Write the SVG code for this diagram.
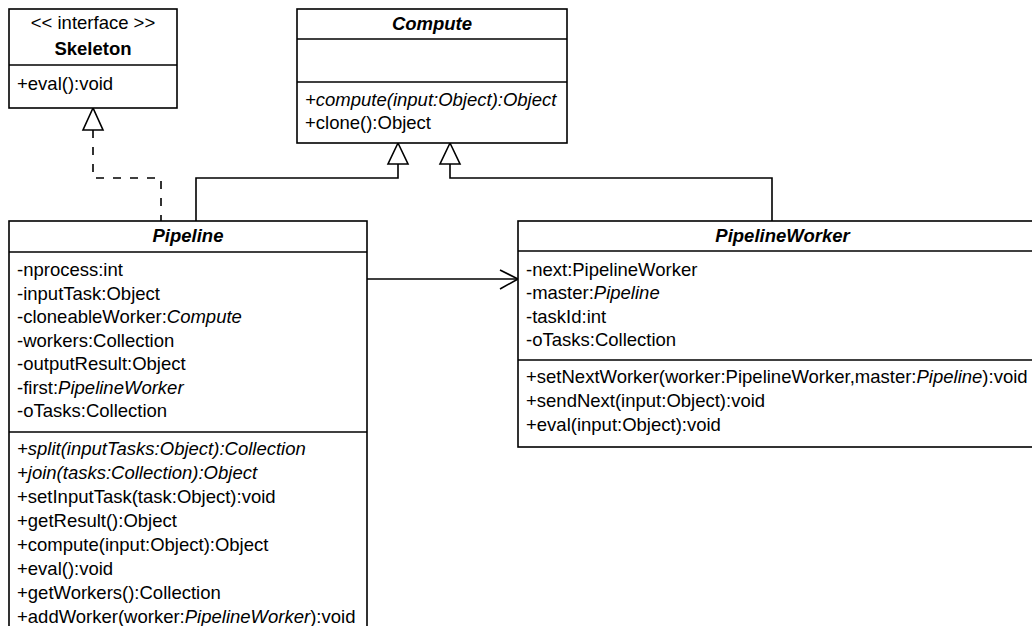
<svg xmlns="http://www.w3.org/2000/svg" width="1032" height="626" viewBox="0 0 1032 626">
  <style>
    .box { fill: #ffffff; stroke: #000000; stroke-width: 1.6; }
    .sep { stroke: #000000; stroke-width: 1.6; fill: none; }
    .edge { stroke: #000000; stroke-width: 1.6; fill: none; }
    .dash { stroke-dasharray: 8 9; }
    .head { fill: #ffffff; stroke: #000000; stroke-width: 1.6; }
    text { font-family: "Liberation Sans", Arial, sans-serif; font-size: 18.5px; fill: #000000; }
    .title { font-weight: bold; text-anchor: middle; }
    .abs { font-style: italic; }
    .mid { text-anchor: middle; }
  </style>

  <!-- connectors -->
  <g id="connectors">
    <!-- Pipeline realizes Skeleton -->
    <path class="edge dash" d="M93 130 V178 H161 V221"/>
    <polygon class="head" points="93,108 83,130 103,130"/>
    <!-- Pipeline extends Compute -->
    <path class="edge" d="M398 164 V178 H196 V221"/>
    <polygon class="head" points="398,143 388,164 408,164"/>
    <!-- PipelineWorker extends Compute -->
    <path class="edge" d="M450 164 V178 H772 V221"/>
    <polygon class="head" points="450,143 440,164 460,164"/>
    <!-- Pipeline navigates to PipelineWorker -->
    <path class="edge" d="M367 279 H517"/>
    <path class="edge" d="M500 270 L518 279 L500 289"/>
  </g>

  <!-- interface Skeleton -->
  <g id="skeleton">
    <rect class="box" x="9" y="9" width="168" height="99"/>
    <line class="sep" x1="9" y1="65" x2="177" y2="65"/>
    <text class="mid" x="93" y="29">&lt;&lt; interface &gt;&gt;</text>
    <text class="title" x="93" y="55">Skeleton</text>
    <text x="17" y="90">+eval():void</text>
  </g>

  <!-- abstract class Compute -->
  <g id="compute">
    <rect class="box" x="297" y="9" width="270" height="134"/>
    <line class="sep" x1="297" y1="39" x2="567" y2="39"/>
    <line class="sep" x1="297" y1="82" x2="567" y2="82"/>
    <text class="title abs" x="432" y="30">Compute</text>
    <text class="abs" x="305" y="106">+compute(input:Object):Object</text>
    <text x="305" y="129">+clone():Object</text>
  </g>

  <!-- abstract class Pipeline -->
  <g id="pipeline">
    <rect class="box" x="9" y="221" width="358" height="430"/>
    <line class="sep" x1="9" y1="252" x2="367" y2="252"/>
    <line class="sep" x1="9" y1="432" x2="367" y2="432"/>
    <text class="title abs" x="188" y="242">Pipeline</text>
    <text x="17" y="276">-nprocess:int</text>
    <text x="17" y="299.5">-inputTask:Object</text>
    <text x="17" y="323">-cloneableWorker:<tspan class="abs">Compute</tspan></text>
    <text x="17" y="346.5">-workers:Collection</text>
    <text x="17" y="370">-outputResult:Object</text>
    <text x="17" y="393.5">-first:<tspan class="abs">PipelineWorker</tspan></text>
    <text x="17" y="417">-oTasks:Collection</text>
    <text class="abs" x="17" y="455">+split(inputTasks:Object):Collection</text>
    <text class="abs" x="17" y="479">+join(tasks:Collection):Object</text>
    <text x="17" y="503">+setInputTask(task:Object):void</text>
    <text x="17" y="527">+getResult():Object</text>
    <text x="17" y="551">+compute(input:Object):Object</text>
    <text x="17" y="575">+eval():void</text>
    <text x="17" y="599">+getWorkers():Collection</text>
    <text x="17" y="623">+addWorker(worker:<tspan class="abs">PipelineWorker</tspan>):void</text>
  </g>

  <!-- abstract class PipelineWorker -->
  <g id="pipelineworker">
    <rect class="box" x="518" y="221" width="529" height="226"/>
    <line class="sep" x1="518" y1="251" x2="1047" y2="251"/>
    <line class="sep" x1="518" y1="360" x2="1047" y2="360"/>
    <text class="title abs" x="782.5" y="242">PipelineWorker</text>
    <text x="526" y="275.5">-next:PipelineWorker</text>
    <text x="526" y="299">-master:<tspan class="abs">Pipeline</tspan></text>
    <text x="526" y="322.5">-taskId:int</text>
    <text x="526" y="346">-oTasks:Collection</text>
    <text x="526" y="383">+setNextWorker(worker:PipelineWorker,master:<tspan class="abs">Pipeline</tspan>):void</text>
    <text x="526" y="407">+sendNext(input:Object):void</text>
    <text x="526" y="431">+eval(input:Object):void</text>
  </g>
</svg>
